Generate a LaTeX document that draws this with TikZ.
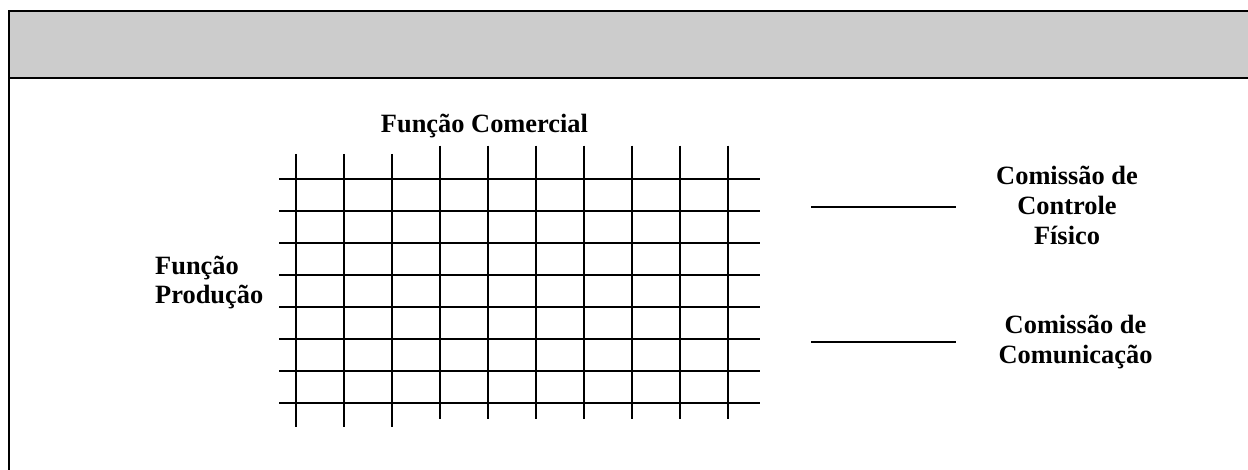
\documentclass[tikz,border=0pt]{standalone}
\usepackage{fontspec}
\setmainfont{Liberation Serif}
\begin{document}
\begin{tikzpicture}[x=1pt,y=-1pt,
  lbl/.style={font=\fontsize{26.4}{30}\selectfont\bfseries, inner sep=0pt, anchor=base},
  gridline/.style={line width=2pt, black},
  frameline/.style={line width=2.2pt, black},
  link/.style={line width=2.2pt, black}]
\useasboundingbox (0,0) rectangle (1248,470);
\begin{scope}
\clip (0,0) rectangle (1248,470);
% header band and outer frame
\fill[gray!40] (9,11) rectangle (1262,78);
\draw[frameline] (9,11) rectangle (1262,490);
\draw[frameline] (9,78) -- (1262,78);
\end{scope}

% grid of functions
\foreach \k in {0,...,7} {
  \draw[gridline] (279,{178.7+32*\k}) -- (760,{178.7+32*\k});
}
\foreach \k in {0,1,2} {
  \draw[gridline] ({295.7+48*\k},154) -- ({295.7+48*\k},426.7);
}
\foreach \k in {3,...,9} {
  \draw[gridline] ({295.7+48*\k},145.7) -- ({295.7+48*\k},419.3);
}

% axis labels
\node[lbl] (com) at (484.5,132.3) {Função Comercial};
\node[lbl, anchor=base west] (prod1) at (155,275) {Função};
\node[lbl, anchor=base west] (prod2) at (155,304) {Produção};

% committees
\coordinate (l1a) at (811,207.3);
\coordinate (l1b) at (955.7,207.3);
\draw[link] (l1a) -- (l1b);
\node[lbl] (cf1) at (1067,185) {Comissão de};
\node[lbl] (cf2) at (1067,215) {Controle};
\node[lbl] (cf3) at (1067,245) {Físico};

\coordinate (l2a) at (811,341.7);
\coordinate (l2b) at (955.7,341.7);
\draw[link] (l2a) -- (l2b);
\node[lbl] (cc1) at (1075.5,334) {Comissão de};
\node[lbl] (cc2) at (1075.5,363) {Comunicação};
\end{tikzpicture}
\end{document}
